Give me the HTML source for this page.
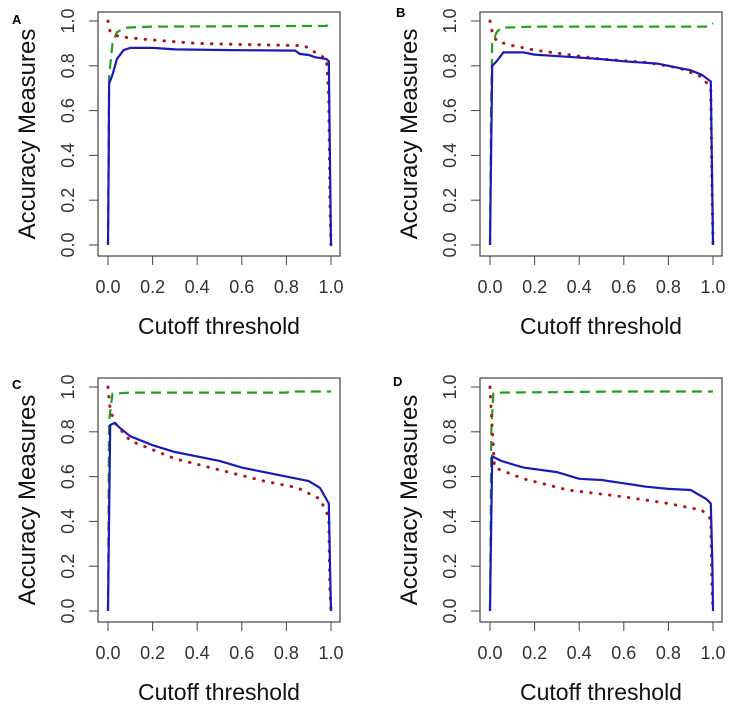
<!DOCTYPE html>
<html><head><meta charset="utf-8"><style>
body{margin:0;background:#fff;}
svg{display:block;font-family:"Liberation Sans",sans-serif;}
</style></head><body>
<svg id="chart" width="743" height="715" viewBox="0 0 743 715"></svg>
<script>
const panelLabels=["A","B","C","D"];
const xTicks=[0,0.2,0.4,0.6,0.8,1.0];
const yTicks=[0,0.2,0.4,0.6,0.8,1.0];
const greenX_A=[0,0.005,0.02,0.04,0.08,0.2,0.98,1];
const greenY_A=[0,0.75,0.9,0.95,0.97,0.975,0.978,1.0];
const redX_A=[0,0.01,0.05,0.2,0.4,0.6,0.88,0.92,0.98,0.99,0.995,1];
const redY_A=[1.0,0.95,0.93,0.915,0.9,0.895,0.89,0.865,0.83,0.65,0.2,0];
const blueX_A=[0,0.003,0.005,0.02,0.04,0.07,0.1,0.2,0.3,0.55,0.84,0.86,0.9,0.93,0.98,0.99,0.995,1];
const blueY_A=[0,0.37,0.72,0.76,0.83,0.87,0.88,0.88,0.873,0.87,0.868,0.853,0.848,0.838,0.83,0.82,0.4,0];

const greenX_B=[0,0.005,0.01,0.03,0.05,0.2,0.98,1];
const greenY_B=[0,0.6,0.9,0.95,0.97,0.975,0.975,0.99];
const redX_B=[0,0.01,0.03,0.1,0.2,0.35,0.5,0.7,0.85,0.95,0.99,0.995,1];
const redY_B=[1.0,0.95,0.91,0.89,0.87,0.85,0.83,0.815,0.79,0.75,0.7,0.3,0];
const blueX_B=[0,0.005,0.01,0.03,0.06,0.15,0.2,0.35,0.5,0.6,0.75,0.8,0.9,0.95,0.99,0.995,1];
const blueY_B=[0,0.4,0.8,0.82,0.86,0.86,0.85,0.84,0.83,0.82,0.81,0.8,0.78,0.76,0.73,0.36,0];

const greenX_C=[0,0.005,0.02,0.1,0.8,0.82,1];
const greenY_C=[0,0.85,0.97,0.975,0.975,0.98,0.98];
const redX_C=[0,0.01,0.03,0.1,0.2,0.3,0.5,0.7,0.85,0.95,0.99,0.995,1];
const redY_C=[1.0,0.9,0.84,0.76,0.72,0.68,0.63,0.58,0.55,0.5,0.42,0.1,0];
const blueX_C=[0,0.005,0.01,0.03,0.05,0.1,0.2,0.3,0.4,0.5,0.6,0.7,0.8,0.9,0.95,0.99,0.995,1];
const blueY_C=[0,0.42,0.83,0.84,0.82,0.78,0.74,0.71,0.69,0.67,0.64,0.62,0.6,0.58,0.55,0.48,0.23,0];

const greenX_D=[0,0.003,0.006,0.015,0.05,0.6,1];
const greenY_D=[0,0.4,0.8,0.97,0.975,0.98,0.98];
const redX_D=[0,0.005,0.02,0.15,0.35,0.6,0.8,0.95,0.99,0.995,1];
const redY_D=[1.0,0.9,0.64,0.59,0.54,0.51,0.48,0.45,0.41,0.12,0];
const blueX_D=[0,0.005,0.01,0.05,0.15,0.3,0.4,0.5,0.6,0.7,0.8,0.9,0.97,0.99,0.997,1];
const blueY_D=[0,0.35,0.69,0.67,0.64,0.62,0.59,0.585,0.57,0.555,0.545,0.54,0.5,0.48,0.23,0];

const series={A:[greenX_A,greenY_A,redX_A,redY_A,blueX_A,blueY_A],B:[greenX_B,greenY_B,redX_B,redY_B,blueX_B,blueY_B],C:[greenX_C,greenY_C,redX_C,redY_C,blueX_C,blueY_C],D:[greenX_D,greenY_D,redX_D,redY_D,blueX_D,blueY_D]};
const NS="http://www.w3.org/2000/svg";
const svg=document.getElementById("chart");
function mk(tag,attrs,parent){const e=document.createElementNS(NS,tag);for(const k in attrs)e.setAttribute(k,attrs[k]);parent.appendChild(e);return e;}
const offs={A:[0,0],B:[382,0],C:[0,366],D:[382,366]};
const labelPos={A:[12,24],B:[396,17],C:[12,389],D:[393,386]};
panelLabels.forEach(p=>{
  const [dx,dy]=offs[p];
  const g=mk("g",{},svg);
  
  
  const xs=v=>dx+108+v*223, ys=v=>dy+245-v*224;
  const box=mk("rect",{x:dx+98,y:dy+12,width:242,height:244,fill:"none",stroke:"#444","stroke-width":1.2},g);
  
  
  const lab=mk("text",{x:labelPos[p][0],y:labelPos[p][1],"font-size":13,"font-weight":"bold",fill:"#000"},g);
  lab.textContent=p;
  
  
  xTicks.forEach(t=>{
    const x=xs(t);
    const l=mk("line",{x1:x,x2:x,y1:dy+256,y2:dy+265,stroke:"#444","stroke-width":1},g);
    
    
    const tx=mk("text",{x:x,y:dy+293,"font-size":18,"text-anchor":"middle",fill:"#333"},g);
    tx.textContent=t.toFixed(1);
    
    
  });
  yTicks.forEach(t=>{
    const y=ys(t);
    const l=mk("line",{x1:dx+89,x2:dx+98,y1:y,y2:y,stroke:"#444","stroke-width":1},g);
    
    
    const tx=mk("text",{x:0,y:0,"font-size":18,"text-anchor":"middle",fill:"#333",transform:`translate(${dx+74},${y}) rotate(-90)`},g);
    tx.textContent=t.toFixed(1);
    
    
  });
  const xt=mk("text",{x:dx+219,y:dy+334,"font-size":23,"text-anchor":"middle",fill:"#111"},g);
  xt.textContent="Cutoff threshold";
  
  
  const yt=mk("text",{x:0,y:0,"font-size":24,"text-anchor":"middle",fill:"#111",transform:`translate(${dx+35},${dy+134}) rotate(-90)`},g);
  yt.textContent="Accuracy Measures";
  
  
  const s=series[p];
  const styles=[["#22a022","10,6",2.2,"specificity-line"],["#b01818","0.5,9",3,"accuracy-line"],["#1a1ab8","",2.2,"sensitivity-line"]];
  styles.forEach((st,i)=>{
    const X=s[2*i],Y=s[2*i+1];
    const d=X.map((v,j)=>(j?"L":"M")+xs(v).toFixed(1)+","+ys(Y[j]).toFixed(1)).join(" ");
    const path=mk("path",{d:d,fill:"none",stroke:st[0],"stroke-width":st[2],"stroke-dasharray":st[1],"stroke-linecap":i==1?"round":"butt"},g);
    
    
  });
});
</script>
</body></html>
